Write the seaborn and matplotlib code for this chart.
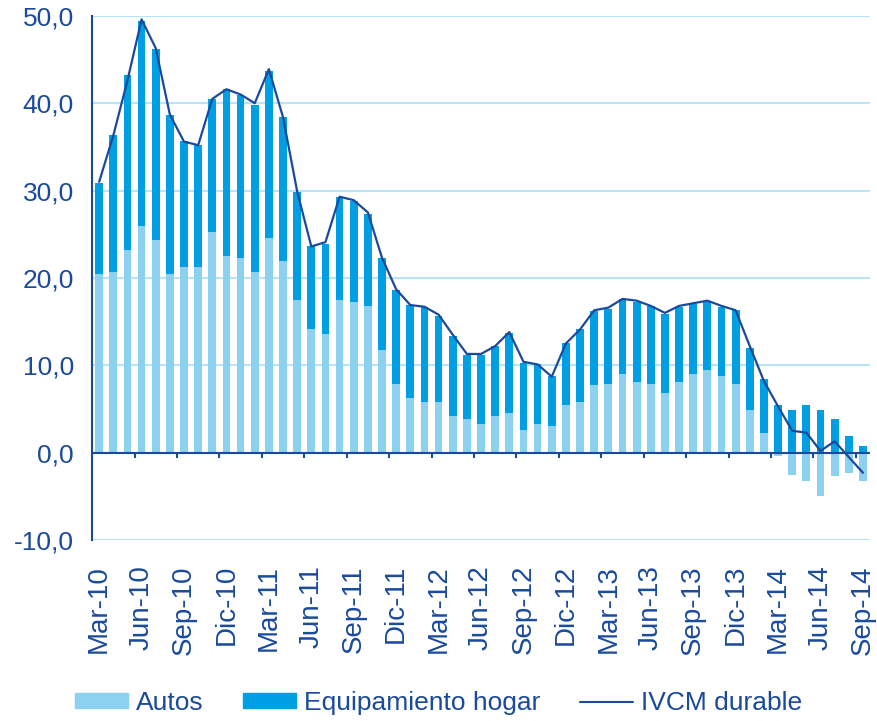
import numpy as np
import matplotlib
matplotlib.use("Agg")
import matplotlib.pyplot as plt
from matplotlib.patches import Patch
from matplotlib.lines import Line2D
import seaborn as sns

# === DATA ===
MONTH_NAMES = ["Ene", "Feb", "Mar", "Abr", "May", "Jun",
               "Jul", "Ago", "Sep", "Oct", "Nov", "Dic"]
months = [f"{MONTH_NAMES[(m - 1) % 12]}-{10 + (m - 1) // 12:02d}" for m in range(3, 58)]

autos = [20.5, 20.7, 23.2, 26.0, 24.4, 20.5, 21.2, 21.2, 25.3, 22.5,
         22.3, 20.7, 24.6, 21.9, 17.5, 14.1, 13.6, 17.5, 17.3, 16.8,
         11.8, 7.9, 6.3, 5.8, 5.8, 4.2, 3.8, 3.3, 4.2, 4.5,
         2.6, 3.3, 3.1, 5.4, 5.8, 7.7, 7.9, 9.0, 8.1, 7.9,
         6.8, 8.1, 9.0, 9.5, 8.8, 7.9, 4.9, 2.2, -0.4, -2.5,
         -3.2, -5.0, -2.7, -2.3, -3.2]

hogar = [10.4, 15.7, 20.0, 23.4, 21.8, 18.2, 14.5, 14.0, 15.2, 19.1,
         18.6, 19.1, 19.1, 16.5, 12.3, 9.5, 10.3, 11.8, 11.5, 10.5,
         10.5, 10.7, 10.6, 10.9, 9.9, 9.2, 7.4, 7.9, 8.0, 9.2,
         7.7, 6.8, 5.7, 7.1, 8.3, 8.5, 8.6, 8.6, 9.2, 8.9,
         9.1, 8.6, 8.0, 7.8, 7.9, 8.4, 7.1, 6.2, 5.4, 4.9,
         5.4, 4.9, 3.8, 1.9, 0.8]

ivcm = [31.0, 36.3, 42.6, 49.6, 46.3, 38.7, 35.6, 35.2, 40.5, 41.6,
        41.0, 40.0, 43.9, 38.4, 29.9, 23.6, 24.1, 29.3, 28.9, 27.5,
        22.3, 18.7, 16.9, 16.7, 15.8, 13.5, 11.3, 11.3, 12.2, 13.8,
        10.4, 10.1, 8.7, 12.5, 14.1, 16.3, 16.6, 17.6, 17.4, 16.8,
        16.0, 16.8, 17.1, 17.4, 16.8, 16.3, 12.2, 8.2, 5.3, 2.5,
        2.3, 0.2, 1.3, -0.5, -2.3]

# === STYLE ===
DARK = "#1A4A9C"
C_AUTOS = "#8DD1F1"
C_HOGAR = "#009FE3"
C_GRID = "#B9E3F6"

sns.set_style("white")
plt.rcParams["font.family"] = ["Liberation Sans", "DejaVu Sans"]

fig, ax = plt.subplots(figsize=(8.77, 7.21), dpi=100)
fig.subplots_adjust(left=0.105, right=0.992, top=0.978, bottom=0.251)

# stacked bars: hogar sits on top of the positive part of autos
hogar_top = np.maximum(np.array(autos), 0) + np.array(hogar)
sns.barplot(x=months, y=hogar_top, color=C_HOGAR, saturation=1, width=0.55,
            linewidth=0, ax=ax)
sns.barplot(x=months, y=autos, color=C_AUTOS, saturation=1, width=0.55,
            linewidth=0, ax=ax)
sns.lineplot(x=np.arange(len(months)), y=ivcm, color=DARK, linewidth=1.6, ax=ax)

# === AXES ===
ax.set_ylim(-10, 50)
ax.set_xlim(-0.5, len(months) - 0.5)
ax.set_yticks(range(-10, 51, 10))
ax.set_yticklabels([f"{v:.1f}".replace(".", ",") for v in range(-10, 51, 10)])
ax.yaxis.grid(True, color=C_GRID, linewidth=1.5)
ax.set_axisbelow(True)

ax.set_xticks(range(0, len(months), 3))
ax.set_xticklabels(months[::3], rotation=90)
ax.tick_params(axis="x", length=0, pad=18, labelsize=20, labelcolor=DARK)
ax.tick_params(axis="y", length=5, width=1.5, color=DARK, pad=8, labelsize=19, labelcolor=DARK)
ax.set_xlabel("")
ax.set_ylabel("")

for side in ["top", "right", "bottom"]:
    ax.spines[side].set_visible(False)
ax.spines["left"].set_color(DARK)
ax.spines["left"].set_linewidth(1.5)

# category axis at zero with tick marks every quarter
ax.axhline(0, color=DARK, linewidth=1.5, zorder=3)
ax.vlines(np.arange(2.5, len(months) - 1, 3), -0.6, 0, color=DARK, linewidth=1.5, zorder=3)

# === LEGEND ===
handles = [Patch(color=C_AUTOS, label="Autos"),
           Patch(color=C_HOGAR, label="Equipamiento hogar"),
           Line2D([], [], color=DARK, linewidth=1.5, label="IVCM durable")]
leg = fig.legend(handles=handles, loc="center", bbox_to_anchor=(0.5, 0.025), ncol=3,
                 frameon=False, fontsize=19, handlelength=2.0, handleheight=0.5,
                 handletextpad=0.3, columnspacing=1.5)
for t in leg.get_texts():
    t.set_color(DARK)

plt.savefig("out.png", dpi=100)
